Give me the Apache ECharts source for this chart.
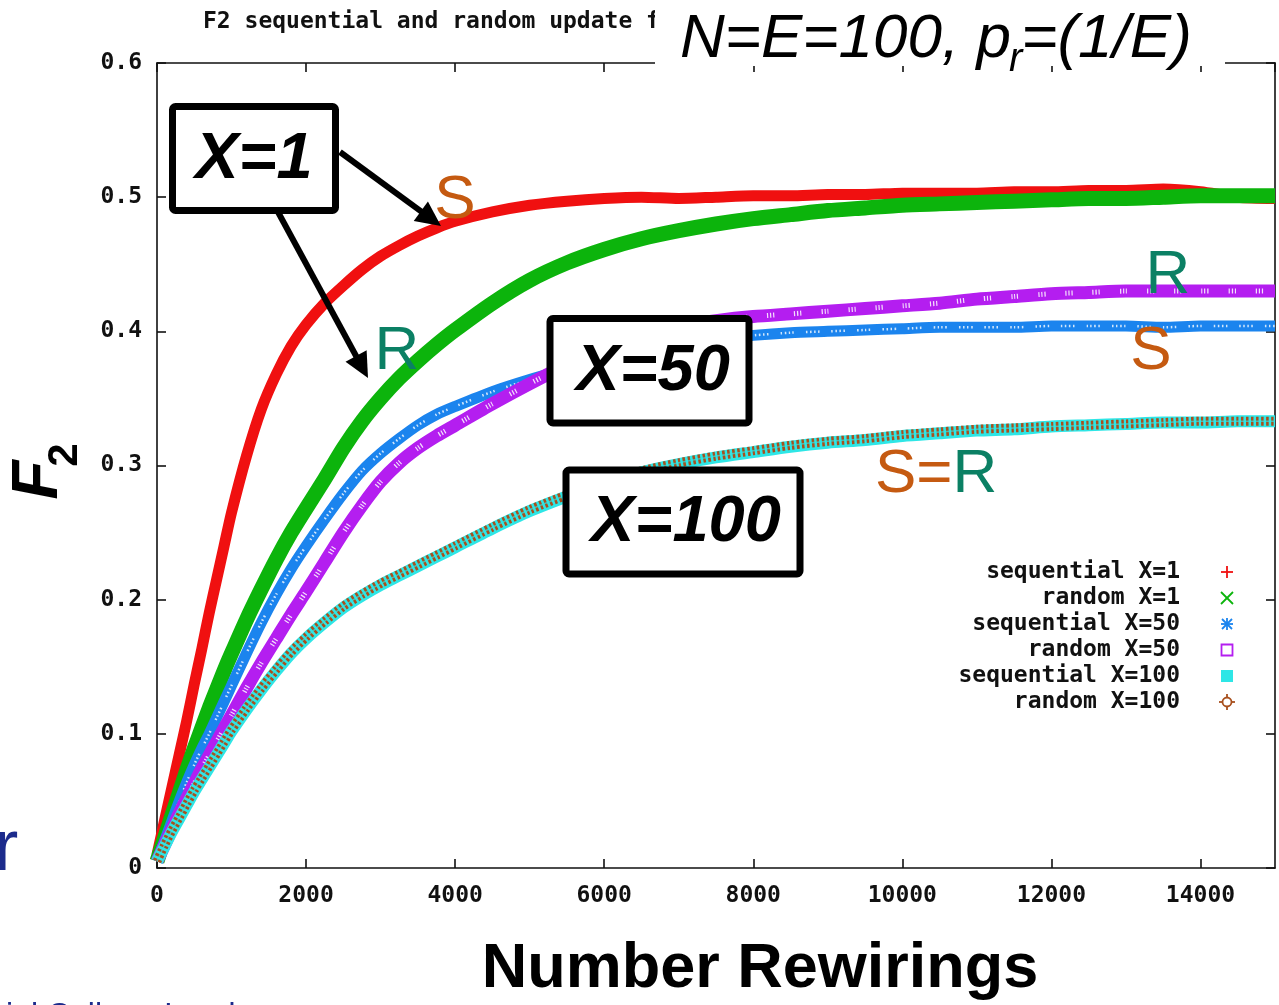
<!DOCTYPE html>
<html>
<head>
<meta charset="utf-8">
<title>F2 sequential and random update</title>
<script src="https://cdn.jsdelivr.net/npm/echarts@6/dist/echarts.min.js"></script>
<style>
  html, body { margin: 0; padding: 0; background: #fff; }
  #chart { width: 1279px; height: 1005px; }
</style>
</head>
<body>
<div id="chart"></div>
<script>
// Number of rewirings at which F2 was sampled
const xs = [0, 100, 200, 300, 400, 500, 600, 700, 800, 900, 1000,
  1200, 1400, 1600, 1800, 2000,
  2250, 2500, 2750, 3000, 3250, 3500, 3750, 4000,
  4500, 5000, 5500, 6000, 6500, 7000, 7500, 8000, 8500, 9000, 9500, 10000,
  10500, 11000, 11500, 12000, 12500, 13000, 13500, 14000, 14500, 15000];

// F2 for each update scheme and X
const seqX1 = [0.01, 0.035, 0.06, 0.085, 0.11, 0.137, 0.163, 0.19, 0.215, 0.24, 0.265,
  0.307, 0.342, 0.368, 0.389, 0.405,
  0.421, 0.434, 0.446, 0.456, 0.464, 0.471, 0.477, 0.482,
  0.489, 0.494, 0.497, 0.499, 0.5, 0.499, 0.5, 0.501, 0.501, 0.502, 0.502, 0.503,
  0.503, 0.503, 0.504, 0.504, 0.505, 0.505, 0.506, 0.504, 0.5, 0.499];

const randX1 = [0.005, 0.022, 0.039, 0.056, 0.073, 0.089, 0.104, 0.119, 0.133, 0.147, 0.16,
  0.185, 0.208, 0.23, 0.25, 0.268,
  0.29, 0.313, 0.333, 0.35, 0.365, 0.378, 0.39, 0.401,
  0.421, 0.438, 0.451, 0.461, 0.469, 0.475, 0.48, 0.484, 0.487, 0.49, 0.492, 0.494,
  0.495, 0.496, 0.497, 0.498, 0.499, 0.499, 0.5, 0.501, 0.501, 0.501];

const seqX50 = [0.005, 0.02, 0.035, 0.05, 0.064, 0.077, 0.089, 0.1, 0.112, 0.124, 0.136,
  0.16, 0.183, 0.204, 0.223, 0.24,
  0.26, 0.279, 0.296, 0.309, 0.32, 0.33, 0.338, 0.344,
  0.355, 0.364, 0.372, 0.38, 0.387, 0.391, 0.394, 0.397, 0.399, 0.4, 0.401, 0.402,
  0.403, 0.403, 0.403, 0.404, 0.404, 0.404, 0.403, 0.404, 0.404, 0.404];

const randX50 = [0.005, 0.017, 0.029, 0.041, 0.052, 0.063, 0.074, 0.084, 0.094, 0.104, 0.114,
  0.134, 0.153, 0.171, 0.189, 0.206,
  0.228, 0.25, 0.27, 0.288, 0.302, 0.313, 0.322, 0.33,
  0.346, 0.361, 0.375, 0.388, 0.398, 0.404, 0.408, 0.411, 0.413, 0.415, 0.417, 0.419,
  0.421, 0.424, 0.426, 0.428, 0.429, 0.43, 0.43, 0.43, 0.43, 0.43];

const seqX100 = [0.005, 0.016, 0.027, 0.037, 0.047, 0.057, 0.066, 0.075, 0.084, 0.093, 0.102,
  0.118, 0.133, 0.147, 0.16, 0.171,
  0.183, 0.194, 0.203, 0.211, 0.218, 0.225, 0.232, 0.239,
  0.253, 0.266, 0.277, 0.287, 0.295, 0.301, 0.306, 0.31, 0.314, 0.317, 0.319, 0.322,
  0.324, 0.326, 0.327, 0.329, 0.33, 0.331, 0.332, 0.332, 0.333, 0.333];

const randX100 = [0.005, 0.017, 0.028, 0.038, 0.048, 0.058, 0.067, 0.076, 0.085, 0.094, 0.103,
  0.119, 0.134, 0.148, 0.161, 0.172,
  0.184, 0.195, 0.204, 0.212, 0.219, 0.226, 0.233, 0.24,
  0.254, 0.267, 0.278, 0.288, 0.296, 0.302, 0.307, 0.311, 0.315, 0.318, 0.32, 0.323,
  0.325, 0.327, 0.328, 0.329, 0.33, 0.331, 0.332, 0.333, 0.333, 0.333];

const legendNames = ['sequential X=1', 'random X=1', 'sequential X=50',
  'random X=50', 'sequential X=100', 'random X=100'];

const C = {
  red: '#f01010', green: '#0cb40c', blue: '#1b84ee', purple: '#b41ef0',
  cyan: '#2ee6e6', brown: '#a8501e', sOrange: '#c55a11', rTeal: '#0b8064', navy: '#1c2b8c'
};
const MONO = '"DejaVu Sans Mono", "Liberation Mono", monospace';
const SANS = '"Liberation Sans", Arial, sans-serif';

const pairs = ys => xs.map((x, i) => [x, ys[i]]);

function band(name, ys, color, width, z) {
  return {
    type: 'line', name: name, data: pairs(ys), showSymbol: false, smooth: 0.25,
    silent: true, z: z,
    lineStyle: { color: color, width: width, cap: 'butt', join: 'round' }
  };
}
function pattern(ys, color, width, dash, z, opacity) {
  return {
    type: 'line', data: pairs(ys), showSymbol: false, smooth: 0.25, silent: true, z: z,
    lineStyle: { color: color, width: width, type: dash, cap: 'butt', opacity: opacity }
  };
}

// text measurement for placing subscript pieces
const mctx = document.createElement('canvas').getContext('2d');
function tw(text, font) { mctx.font = font; return mctx.measureText(text).width; }

const graphics = [];

// plot title (its tail runs under the header box)
graphics.push({ type: 'text', x: 203, y: 22, z: 90,
  style: { text: 'F2 sequential and random update for', font: 'bold 23px ' + MONO,
    fill: '#111', textAlign: 'left', textVerticalAlign: 'middle' } });

// header box: N=E=100, p_r=(1/E)
graphics.push({ type: 'rect', shape: { x: 655, y: 0, width: 570, height: 66 },
  style: { fill: '#fff' }, z: 100 });
(function () {
  const fMain = 'italic 62px ' + SANS, fSub = 'italic 40px ' + SANS;
  const p1 = 'N=E=100, p', p2 = 'r', p3 = '=(1/E)';
  let x = 680;
  graphics.push({ type: 'text', x: x, y: 40, z: 101,
    style: { text: p1, font: fMain, fill: '#000', textAlign: 'left', textVerticalAlign: 'middle' } });
  x += tw(p1, fMain);
  graphics.push({ type: 'text', x: x - 2, y: 60, z: 101,
    style: { text: p2, font: fSub, fill: '#000', textAlign: 'left', textVerticalAlign: 'middle' } });
  x += tw(p2, fSub) - 3;
  graphics.push({ type: 'text', x: x, y: 40, z: 101,
    style: { text: p3, font: fMain, fill: '#000', textAlign: 'left', textVerticalAlign: 'middle' } });
})();

// labelled boxes
function boxLabel(x, y, w, h, label, cx, cy) {
  graphics.push({ type: 'rect', shape: { x: x, y: y, width: w, height: h, r: 3 },
    style: { fill: '#fff', stroke: '#000', lineWidth: 7 }, z: 100 });
  graphics.push({ type: 'text', x: cx, y: cy, z: 101,
    style: { text: label, font: 'italic bold 65px ' + SANS, fill: '#000',
      textAlign: 'center', textVerticalAlign: 'middle' } });
}
boxLabel(172.5, 106.5, 163, 104, 'X=1', 254, 160);
boxLabel(550, 318.5, 199, 104.5, 'X=50', 653, 372);
boxLabel(566, 470, 234, 104, 'X=100', 686, 523);

// arrows from the X=1 box
function arrow(ax, ay, tx, ty) {
  const dx = tx - ax, dy = ty - ay, len = Math.hypot(dx, dy);
  const ux = dx / len, uy = dy / len, nx = -uy, ny = ux;
  const hl = 25, hw = 12;
  const bx = tx - hl * ux, by = ty - hl * uy;
  graphics.push({ type: 'line', z: 99, shape: { x1: ax, y1: ay, x2: bx + 2 * ux, y2: by + 2 * uy },
    style: { stroke: '#000', lineWidth: 6 } });
  graphics.push({ type: 'polygon', z: 99,
    shape: { points: [[tx, ty], [bx + hw * nx, by + hw * ny], [bx - hw * nx, by - hw * ny]] },
    style: { fill: '#000' } });
}
arrow(340, 152, 441, 226);
arrow(278, 212, 368, 378);

// S / R markers
function letter(t, color, cx, cy) {
  graphics.push({ type: 'text', x: cx, y: cy, z: 101,
    style: { text: t, font: '62px ' + SANS, fill: color, textAlign: 'center', textVerticalAlign: 'middle' } });
}
letter('S', C.sOrange, 455, 201);
letter('R', C.rTeal, 397, 352);
letter('R', C.rTeal, 1168, 276);
letter('S', C.sOrange, 1151, 352);
(function () {
  const f = '62px ' + SANS;
  let x = 875;
  const parts = [['S', C.sOrange], ['=', C.sOrange], ['R', C.rTeal]];
  parts.forEach(p => {
    graphics.push({ type: 'text', x: x, y: 475, z: 101,
      style: { text: p[0], font: f, fill: p[1], textAlign: 'left', textVerticalAlign: 'middle' } });
    x += tw(p[0], f);
  });
})();

// legend
const legendY = [572, 598, 624, 650, 676, 702];
legendNames.forEach((n, i) => {
  graphics.push({ type: 'text', x: 1180, y: legendY[i], z: 101,
    style: { text: n, font: 'bold 23px ' + MONO, fill: '#111', textAlign: 'right', textVerticalAlign: 'middle' } });
});
(function () {
  const sx = 1227, s = 6;
  const ln = (x1, y1, x2, y2, c, w) => graphics.push({ type: 'line', z: 101,
    shape: { x1: x1, y1: y1, x2: x2, y2: y2 }, style: { stroke: c, lineWidth: w || 1.8 } });
  let y = legendY[0];
  ln(sx - s, y, sx + s, y, C.red); ln(sx, y - s, sx, y + s, C.red);
  y = legendY[1];
  ln(sx - s, y - s, sx + s, y + s, C.green); ln(sx - s, y + s, sx + s, y - s, C.green);
  y = legendY[2];
  ln(sx - s, y, sx + s, y, C.blue); ln(sx, y - s, sx, y + s, C.blue);
  ln(sx - 5, y - 5, sx + 5, y + 5, C.blue); ln(sx - 5, y + 5, sx + 5, y - 5, C.blue);
  y = legendY[3];
  graphics.push({ type: 'rect', z: 101, shape: { x: sx - 5.5, y: y - 5.5, width: 11, height: 11 },
    style: { fill: 'none', stroke: C.purple, lineWidth: 1.8 } });
  y = legendY[4];
  graphics.push({ type: 'rect', z: 101, shape: { x: sx - 6, y: y - 6, width: 12, height: 12 },
    style: { fill: C.cyan } });
  y = legendY[5];
  graphics.push({ type: 'circle', z: 101, shape: { cx: sx, cy: y, r: 4.5 },
    style: { fill: 'none', stroke: C.brown, lineWidth: 1.8 } });
  ln(sx, y - 8, sx, y - 4.5, C.brown); ln(sx, y + 4.5, sx, y + 8, C.brown);
  ln(sx - 8, y, sx - 4.5, y, C.brown); ln(sx + 4.5, y, sx + 8, y, C.brown);
})();

// axis titles
graphics.push({ type: 'text', x: 39, y: 480, rotation: Math.PI / 2, z: 101,
  style: { text: 'F', font: 'italic bold 64px ' + SANS, fill: '#000', textAlign: 'center', textVerticalAlign: 'middle' } });
graphics.push({ type: 'text', x: 65, y: 455, rotation: Math.PI / 2, z: 101,
  style: { text: '2', font: 'bold 42px ' + SANS, fill: '#000', textAlign: 'center', textVerticalAlign: 'middle' } });
graphics.push({ type: 'text', x: 760, y: 970, z: 101,
  style: { text: 'Number Rewirings', font: 'bold 63px ' + SANS, fill: '#000', textAlign: 'center', textVerticalAlign: 'middle' } });

// slide fragments around the plot
graphics.push({ type: 'text', x: -6, y: 850, z: 101,
  style: { text: 'r', font: '73px ' + SANS, fill: C.navy, textAlign: 'left', textVerticalAlign: 'middle' } });
graphics.push({ type: 'text', x: 6, y: 1016, z: 101,
  style: { text: 'ial College London', font: '32px ' + SANS, fill: C.navy, textAlign: 'left', textVerticalAlign: 'middle' } });

const axisLineStyle = { color: '#111', width: 1.6 };
const tickLabel = { fontFamily: MONO, fontSize: 23, fontWeight: 'bold', color: '#111' };

const option = {
  animation: false,
  backgroundColor: '#fff',
  grid: { left: 157, right: 4, top: 63, bottom: 137, outerBoundsMode: 'none' },
  xAxis: [
    { type: 'value', min: 0, max: 15000, interval: 2000, position: 'bottom',
      axisLine: { show: true, onZero: false, lineStyle: axisLineStyle },
      axisTick: { show: true, inside: true, length: 9, lineStyle: axisLineStyle },
      axisLabel: Object.assign({ margin: 17, showMaxLabel: false, formatter: v => String(v) }, tickLabel),
      splitLine: { show: false } },
    { type: 'value', min: 0, max: 15000, interval: 2000, position: 'top',
      axisLine: { show: true, onZero: false, lineStyle: axisLineStyle },
      axisTick: { show: true, inside: true, length: 9, lineStyle: axisLineStyle },
      axisLabel: { show: false }, splitLine: { show: false } }
  ],
  yAxis: [
    { type: 'value', min: 0, max: 0.6, interval: 0.1, position: 'left',
      axisLine: { show: true, onZero: false, lineStyle: axisLineStyle },
      axisTick: { show: true, inside: true, length: 9, lineStyle: axisLineStyle },
      axisLabel: Object.assign({ margin: 15 }, tickLabel),
      splitLine: { show: false } },
    { type: 'value', min: 0, max: 0.6, interval: 0.1, position: 'right',
      axisLine: { show: true, onZero: false, lineStyle: axisLineStyle },
      axisTick: { show: true, inside: true, length: 9, lineStyle: axisLineStyle },
      axisLabel: { show: false }, splitLine: { show: false } }
  ],
  series: [
    band(legendNames[0], seqX1, C.red, 11, 2),
    band(legendNames[1], randX1, C.green, 15, 3),
    band(legendNames[2], seqX50, C.blue, 11, 4),
    pattern(seqX50, '#ffffff', 2.5, [1.5, 2.5, 1.5, 2.5, 1.5, 2.5, 1.5, 12], 5, 0.8),
    band(legendNames[3], randX50, C.purple, 13, 6),
    pattern(randX50, '#ffffff', 5, [1.2, 1.8, 1.2, 1.8, 1.2, 20], 7, 0.85),
    band(legendNames[4], seqX100, C.cyan, 12, 8),
    pattern(randX100, C.brown, 9, [2.5, 2.5], 9, 1),
    pattern(randX100, C.cyan, 1.5, 'solid', 10, 0.7)
  ],
  graphic: graphics
};

const chart = echarts.init(document.getElementById('chart'), null, { renderer: 'canvas' });
chart.setOption(option);
</script>
</body>
</html>
